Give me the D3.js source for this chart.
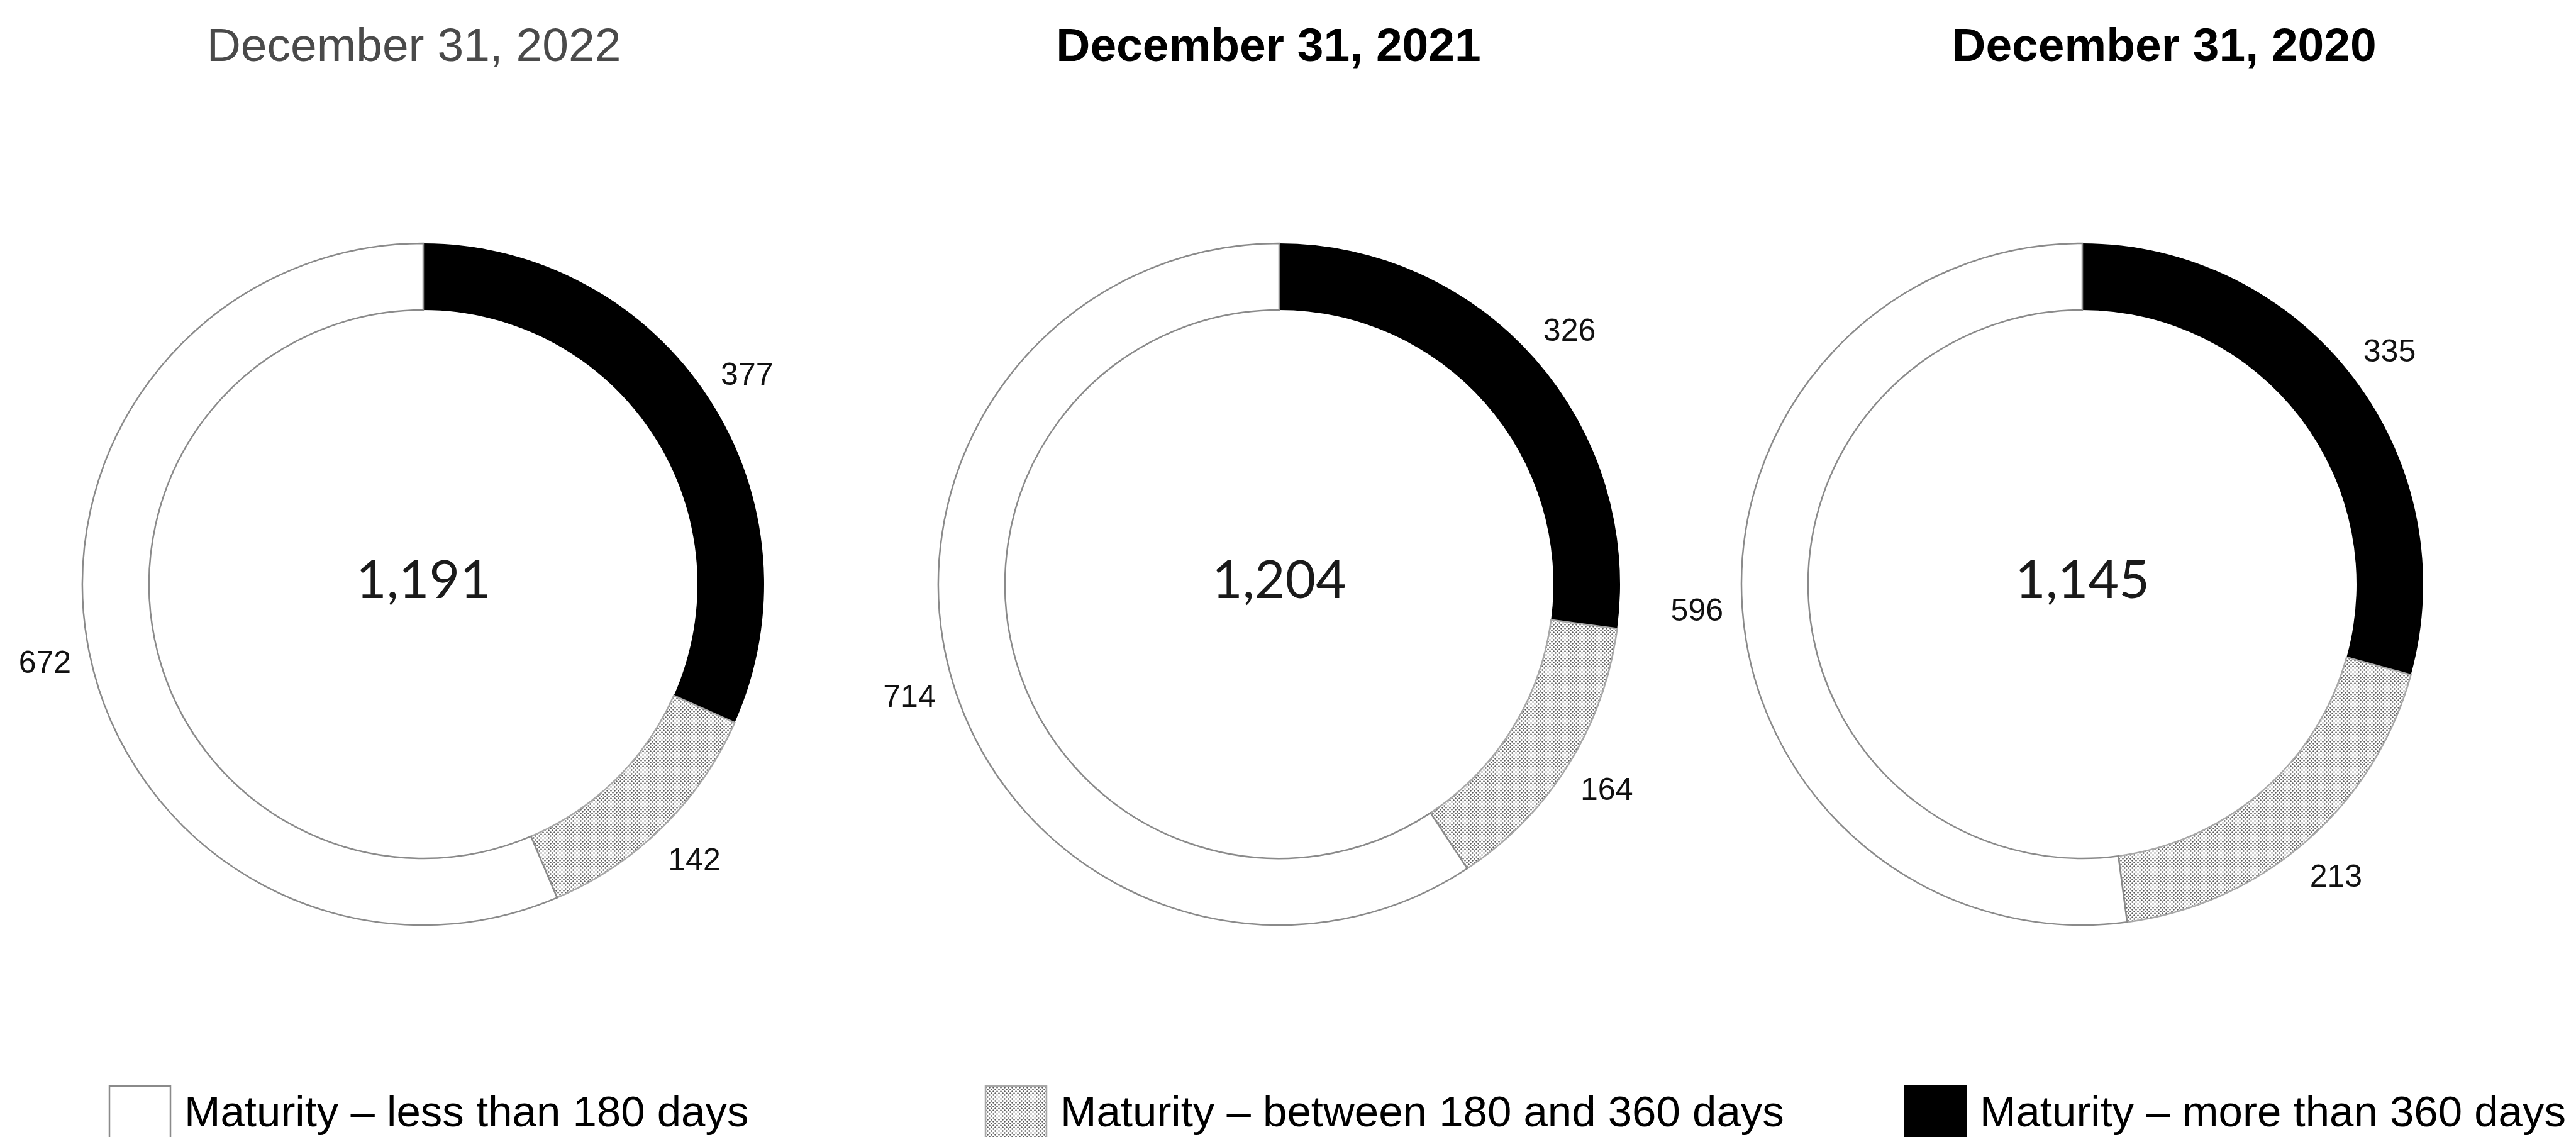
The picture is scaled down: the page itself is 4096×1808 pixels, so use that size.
<!DOCTYPE html>
<html>
<head>
<meta charset="utf-8">
<script src="https://cdn.jsdelivr.net/npm/d3@7"></script>
<style>
  html, body { margin: 0; padding: 0; background: #ffffff; }
  svg { display: block; }
</style>
</head>
<body>
<svg id="chart" width="4096" height="1808"></svg>
<script>
// ---- data ----
const periods = ["December 31, 2022", "December 31, 2021", "December 31, 2020"];
const categories = [
  "Maturity \u2013 less than 180 days",
  "Maturity \u2013 between 180 and 360 days",
  "Maturity \u2013 more than 360 days"
];
const lessThan180 = [672, 714, 596];
const between180And360 = [142, 164, 213];
const moreThan360 = [377, 326, 335];
const totalLabels = ["1,191", "1,204", "1,145"];

// ---- layout ----
const W = 4096, H = 1808;
const donutCX = [673, 2034, 3311];
const donutCY = 929;
const titleX = [658, 2017, 3441];
const titleY = 97;
const outerR = 542, innerR = 436, labelR = 614;
const legendBoxX = [174, 1567, 3029];
const legendTop = 1727, legendBoxW = 97, legendY = 1791;

const svg = d3.select("#chart");

// stipple fill for the middle band
const defs = svg.append("defs");
const pat = defs.append("pattern")
  .attr("id", "stipple")
  .attr("patternUnits", "userSpaceOnUse")
  .attr("width", 6).attr("height", 6);
pat.append("rect").attr("width", 6).attr("height", 6).attr("fill", "#ffffff");
pat.append("circle").attr("cx", 1.5).attr("cy", 1.5).attr("r", 1.2).attr("fill", "#5a5a5a");
pat.append("circle").attr("cx", 4.5).attr("cy", 4.5).attr("r", 1.2).attr("fill", "#5a5a5a");

const colour = d3.scaleOrdinal()
  .domain(categories)
  .range(["#ffffff", "url(#stipple)", "#000000"]);
const stroke = d3.scaleOrdinal()
  .domain(categories)
  .range(["#8a8a8a", "#a8a8a8", "none"]);

const pie = d3.pie().sort(null).value(d => d.value);
const arc = d3.arc().innerRadius(innerR).outerRadius(outerR);
const labelArc = d3.arc().innerRadius(labelR).outerRadius(labelR);

periods.forEach((p, i) => {
  // slices run clockwise from 12 o'clock: >360, 180-360, <180
  const slices = [
    { cat: categories[2], value: moreThan360[i] },
    { cat: categories[1], value: between180And360[i] },
    { cat: categories[0], value: lessThan180[i] }
  ];
  const arcs = pie(slices);

  const g = svg.append("g").attr("transform", `translate(${donutCX[i]},${donutCY})`);

  g.selectAll("path.slice")
    .data(arcs)
    .join("path")
    .attr("class", "slice")
    .attr("d", arc)
    .attr("fill", d => colour(d.data.cat))
    .attr("stroke", d => stroke(d.data.cat))
    .attr("stroke-width", 2.5);

  g.selectAll("text.value")
    .data(arcs)
    .join("text")
    .attr("class", "value")
    .attr("transform", d => {
      const [x, y] = labelArc.centroid(d);
      return `translate(${x},${y})`;
    })
    .attr("dy", 18)
    .attr("text-anchor", "middle")
    .attr("font-family", "'Liberation Sans', Arial, sans-serif")
    .attr("font-size", 50)
    .attr("fill", "#111111")
    .text(d => d.data.value);

  g.append("text")
    .attr("class", "total")
    .attr("y", 22)
    .attr("text-anchor", "middle")
    .attr("font-family", "Lato, 'Open Sans', sans-serif")
    .attr("font-size", 84)
    .attr("fill", "#1a1a1a")
    .text(totalLabels[i]);

  svg.append("text")
    .attr("class", "title")
    .attr("x", titleX[i])
    .attr("y", titleY)
    .attr("text-anchor", "middle")
    .attr("font-family", "'Liberation Sans', Arial, sans-serif")
    .attr("font-size", 75)
    .attr("font-weight", i === 0 ? "normal" : "bold")
    .attr("fill", i === 0 ? "#4a4a4a" : "#000000")
    .text(p);
});

// ---- legend ----
const legend = svg.append("g").attr("class", "legend");
categories.forEach((c, k) => {
  legend.append("rect")
    .attr("x", legendBoxX[k])
    .attr("y", legendTop)
    .attr("width", legendBoxW)
    .attr("height", 110)
    .attr("fill", colour(c))
    .attr("stroke", k === 2 ? "#000000" : stroke(c))
    .attr("stroke-width", 2.5);
  legend.append("text")
    .attr("x", legendBoxX[k] + legendBoxW + 22)
    .attr("y", legendY)
    .attr("font-family", "'Liberation Sans', Arial, sans-serif")
    .attr("font-size", 69)
    .attr("fill", "#000000")
    .text(c);
});
</script>
</body>
</html>
